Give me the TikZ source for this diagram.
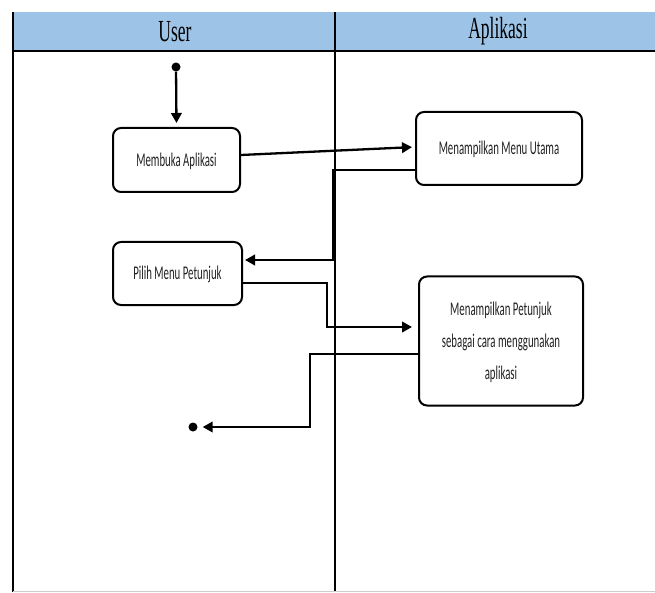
\documentclass[tikz,border=0pt]{standalone}
\usepackage{fontspec}
\setmainfont{Liberation Serif}
\newfontfamily\boxfont{Carlito}
\usetikzlibrary{arrows.meta}
\definecolor{headerblue}{RGB}{157,195,230}
\definecolor{boxtext}{RGB}{35,35,35}
\newcommand{\vtxt}[1]{\scalebox{1}[1.8]{\begin{tabular}{@{}c@{}}#1\end{tabular}}}
\newcommand{\htxt}[1]{\scalebox{1}[1.75]{#1}}
\tikzset{
  act/.style={draw=black, line width=2pt, rounded corners=8pt, fill=white,
    inner sep=0pt, text=boxtext, font=\boxfont\fontsize{10.8}{18}\selectfont},
  flow/.style={draw=black, line width=2.3pt, -{Triangle[length=10pt,width=10.5pt]}},
  dot/.style={circle, fill=black, inner sep=0pt, minimum size=9pt},
  lane/.style={draw=black, line width=1.2pt},
  hdr/.style={font=\fontsize{17.5}{20}\selectfont, text=black}
}
\begin{document}
\begin{tikzpicture}[x=1pt,y=-1pt]
\useasboundingbox (0,0) rectangle (655,593);
% swimlanes
\fill[headerblue] (13,12) rectangle (655,51);
\draw[lane, line width=1.6pt] (13,51) -- (655,51);
\draw[lane, line width=1.6pt] (13,12) -- (13,592);
\draw[lane] (335,12) -- (335,592);
\draw[draw=black!20, line width=1pt] (13,591.5) -- (655,591.5);
\node[hdr] (hUser) at (175,31.5) {\htxt{User}};
\node[hdr] (hApp) at (498,31.5) {\htxt{Aplikasi}};
% nodes
\node[dot] (start) at (176,67) {};
\node[act, minimum width=127pt, minimum height=64pt] (b1) at (176.5,160) {\vtxt{Membuka Aplikasi}};
\node[act, minimum width=166pt, minimum height=73pt] (b2) at (499,148.5) {\vtxt{Menampilkan Menu Utama}};
\node[act, minimum width=129pt, minimum height=63pt] (b3) at (177.5,273.5) {\vtxt{Pilih Menu Petunjuk}};
\node[act, minimum width=164pt, minimum height=129pt] (b4) at (501,341) {\vtxt{Menampilkan Petunjuk\\sebagai cara menggunakan\\aplikasi}};
\node[dot] (end) at (193,427) {};
% connectors
\draw[flow, shorten >=4pt] (start) -- (b1.north);
\draw[flow, shorten >=3pt] ([yshift=5pt]b1.east) -- ([yshift=1.5pt]b2.west);
\draw[flow, shorten >=2pt] ([yshift=-21.5pt]b2.west) -| (333,260) -- ([yshift=13.5pt]b3.east);
\draw[flow, shorten >=6pt] ([yshift=-9.5pt]b3.east) -| (327,327) -- ([yshift=14pt]b4.west);
\draw[flow, shorten >=5pt] ([yshift=-13pt]b4.west) -| (310,427) -- (end.east);
\end{tikzpicture}
\end{document}
